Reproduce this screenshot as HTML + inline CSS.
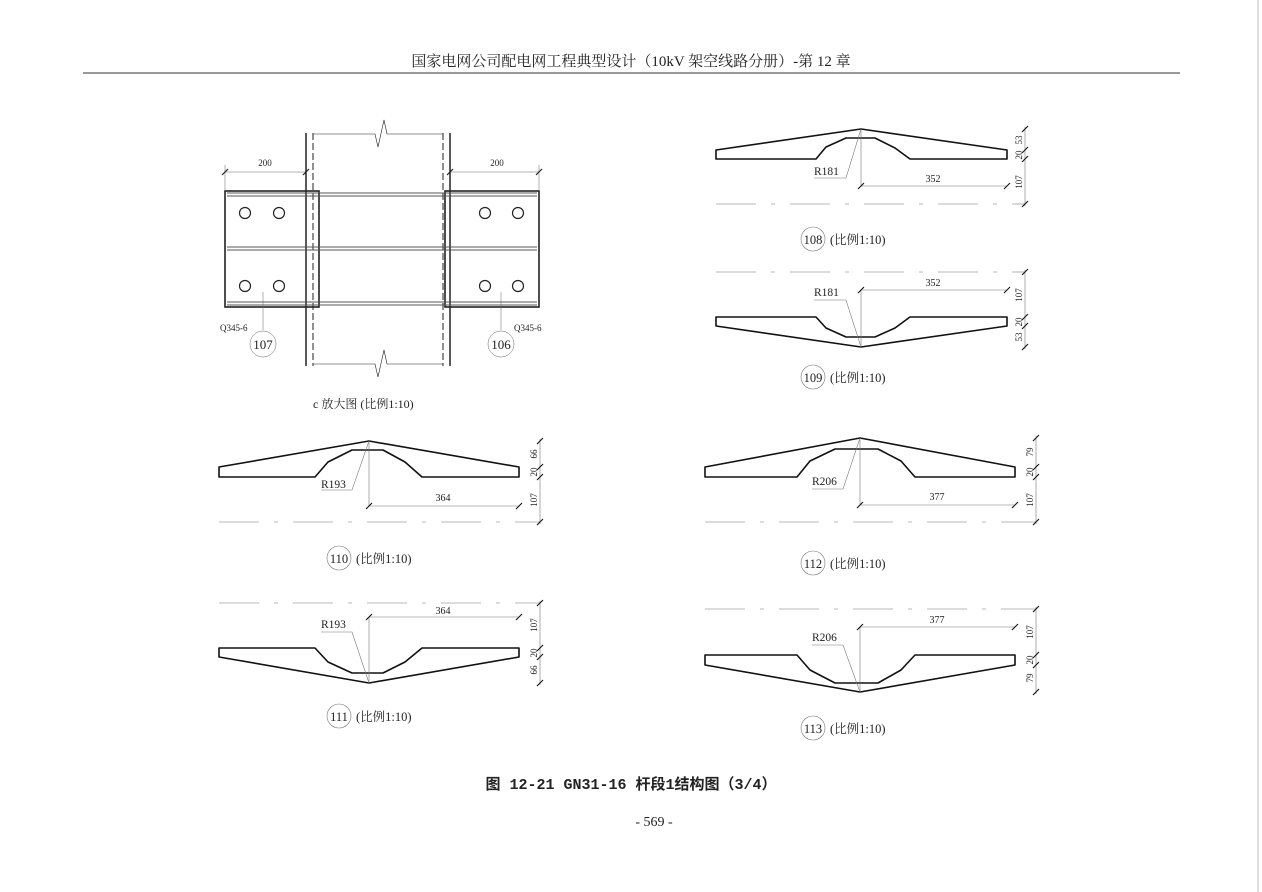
<!DOCTYPE html>
<html><head><meta charset="utf-8"><style>
body{margin:0;background:#fff}
svg{display:block}
text{font-family:"Liberation Serif","Noto Serif CJK SC",serif;fill:#222}
</style></head><body>
<svg width="1262" height="892" viewBox="0 0 1262 892" xmlns="http://www.w3.org/2000/svg">
<rect width="1262" height="892" fill="#fff"/>
<line x1="1258" y1="0" x2="1258" y2="892" stroke="#bbb"/>
<text x="631" y="66" font-size="15" text-anchor="middle">国家电网公司配电网工程典型设计（10kV 架空线路分册）-第 12 章</text>
<line x1="83" y1="73" x2="1180" y2="73" stroke="#333" stroke-width="1"/>

<g stroke="#222" fill="none">
<line x1="306" y1="133" x2="306" y2="366" stroke-width="1.5"/>
<line x1="450" y1="133" x2="450" y2="366" stroke-width="1.5"/>
<line x1="313" y1="133" x2="313" y2="366" stroke-dasharray="7,3"/>
<line x1="443" y1="133" x2="443" y2="366" stroke-dasharray="7,3"/>
<polyline points="313,134 375,134 378,147 384,120 387,134 443,134" stroke-width="0.6"/>
<polyline points="313,364 375,364 378,377 384,350 387,364 443,364" stroke-width="0.6"/>
<rect x="225" y="191" width="94" height="116" stroke-width="1.6"/>
<rect x="445" y="191" width="94" height="116" stroke-width="1.6"/>
<g stroke="#555" stroke-width="1">
<line x1="227" y1="193" x2="537" y2="193"/><line x1="227" y1="196" x2="537" y2="196"/>
<line x1="227" y1="247" x2="537" y2="247"/><line x1="227" y1="250" x2="537" y2="250"/>
<line x1="227" y1="302" x2="537" y2="302"/><line x1="227" y1="305" x2="537" y2="305"/>
</g>
<g stroke-width="1.2">
<circle cx="245" cy="213" r="5.5"/><circle cx="279" cy="213" r="5.5"/>
<circle cx="245" cy="286" r="5.5"/><circle cx="279" cy="286" r="5.5"/>
<circle cx="485" cy="213" r="5.5"/><circle cx="518" cy="213" r="5.5"/>
<circle cx="485" cy="286" r="5.5"/><circle cx="518" cy="286" r="5.5"/>
</g>
<g stroke-width="0.5" stroke="#666">
<line x1="225" y1="172" x2="306" y2="172"/><line x1="450" y1="172" x2="539" y2="172"/>
<line x1="225" y1="165" x2="225" y2="191"/><line x1="539" y1="165" x2="539" y2="191"/>
<line x1="263" y1="292" x2="263" y2="330"/><line x1="501" y1="292" x2="501" y2="330"/>
<circle cx="263" cy="344" r="13"/><circle cx="501" cy="344" r="13"/>
</g>
<g stroke-width="1.2"><line x1="222" y1="175" x2="228" y2="169"/><line x1="303" y1="175" x2="309" y2="169"/><line x1="447" y1="175" x2="453" y2="169"/><line x1="536" y1="175" x2="542" y2="169"/></g>
</g>
<g font-size="9">
<text x="265" y="166" text-anchor="middle">200</text>
<text x="497" y="166" text-anchor="middle">200</text>
<text x="220" y="331">Q345-6</text>
<text x="514" y="331">Q345-6</text>
</g>
<text x="263" y="349" font-size="13" text-anchor="middle">107</text>
<text x="501" y="349" font-size="13" text-anchor="middle">106</text>
<text x="313" y="408" font-size="12">c 放大图 (比例1:10)</text>

<g stroke="#111" fill="none" stroke-width="1.6" stroke-linejoin="round">
<polygon points="716,150 861,129 1007,150 1007,159 910,159 895,148 875,138 846,138 826,147 816,159 716,159"/>
<polygon points="716,317 816,317 826,328 846,337 875,337 895,328 910,317 1007,317 1007,326 861,347 716,326"/>
<polygon points="219,467 369,441 519,467 519,477 422,477 405,462 383,450 352,450 328,462 315,477 219,477"/>
<polygon points="219,648 315,648 328,662 352,673 383,673 405,662 422,648 519,648 519,657 369,683 219,657"/>
<polygon points="705,467 860,438 1015,467 1015,477 915,477 901,461 878,449 835,449 810,461 797,477 705,477"/>
<polygon points="705,655 797,655 810,670 835,683 878,683 901,670 915,655 1015,655 1015,665 860,692 705,665"/>
</g>
<g stroke="#777" fill="none" stroke-width="0.6">
<line x1="716" y1="204" x2="1025" y2="204" stroke-dasharray="40,15,4,15"/>
<line x1="716" y1="272" x2="1025" y2="272" stroke-dasharray="40,15,4,15"/>
<line x1="219" y1="522" x2="540" y2="522" stroke-dasharray="40,15,4,15"/>
<line x1="219" y1="603" x2="540" y2="603" stroke-dasharray="40,15,4,15"/>
<line x1="705" y1="522" x2="1036" y2="522" stroke-dasharray="40,15,4,15"/>
<line x1="705" y1="609" x2="1036" y2="609" stroke-dasharray="40,15,4,15"/>
<line x1="861" y1="129" x2="861" y2="186"/><line x1="861" y1="186" x2="1007" y2="186"/>
<line x1="861" y1="290" x2="861" y2="347"/><line x1="861" y1="290" x2="1007" y2="290"/>
<line x1="369" y1="441" x2="369" y2="506"/><line x1="369" y1="506" x2="519" y2="506"/>
<line x1="369" y1="617" x2="369" y2="683"/><line x1="369" y1="617" x2="519" y2="617"/>
<line x1="860" y1="438" x2="860" y2="505"/><line x1="860" y1="505" x2="1015" y2="505"/>
<line x1="860" y1="627" x2="860" y2="692"/><line x1="860" y1="627" x2="1015" y2="627"/>
<line x1="1025" y1="127" x2="1025" y2="206"/><line x1="1025" y1="270" x2="1025" y2="349"/>
<line x1="540" y1="439" x2="540" y2="524"/><line x1="540" y1="601" x2="540" y2="685"/>
<line x1="1036" y1="436" x2="1036" y2="524"/><line x1="1036" y1="607" x2="1036" y2="694"/>
<polyline points="814,178 846,178 861,129"/><polyline points="814,300 846,300 861,347"/>
<polyline points="321,490 352,490 369,441"/><polyline points="321,632 352,632 369,683"/>
<polyline points="812,489 843,489 860,438"/><polyline points="812,645 843,645 860,692"/>
<circle cx="813" cy="239" r="12"/><circle cx="813" cy="377" r="12"/>
<circle cx="339" cy="558" r="12"/><circle cx="339" cy="716" r="12"/>
<circle cx="813" cy="563" r="12"/><circle cx="813" cy="728" r="12"/>
</g>
<g stroke="#111" stroke-width="1.1">
<path d="M858,189l6,-6M1004,189l6,-6M858,293l6,-6M1004,293l6,-6M366,509l6,-6M516,509l6,-6M366,620l6,-6M516,620l6,-6M857,508l6,-6M1012,508l6,-6M857,630l6,-6M1012,630l6,-6"/>
<path d="M1022,132l6,-6M1022,153l6,-6M1022,162l6,-6M1022,207l6,-6M1022,275l6,-6M1022,320l6,-6M1022,329l6,-6M1022,350l6,-6"/>
<path d="M537,444l6,-6M537,470l6,-6M537,480l6,-6M537,525l6,-6M537,606l6,-6M537,651l6,-6M537,660l6,-6M537,686l6,-6"/>
<path d="M1033,441l6,-6M1033,470l6,-6M1033,480l6,-6M1033,525l6,-6M1033,612l6,-6M1033,658l6,-6M1033,668l6,-6M1033,695l6,-6"/>
</g>
<g font-size="10" text-anchor="middle">
<text x="933" y="182">352</text><text x="933" y="286">352</text>
<text x="443" y="501">364</text><text x="443" y="614">364</text>
<text x="937" y="500">377</text><text x="937" y="623">377</text>
</g>
<g font-size="11.5">
<text x="814" y="175">R181</text><text x="814" y="296">R181</text>
<text x="321" y="488">R193</text><text x="321" y="628">R193</text>
<text x="812" y="485">R206</text><text x="812" y="641">R206</text>
</g>
<g font-size="9" text-anchor="middle">
<text transform="translate(1022,140) rotate(-90)">53</text>
<text transform="translate(1022,155) rotate(-90)">20</text>
<text transform="translate(1022,182) rotate(-90)">107</text>
<text transform="translate(1022,295) rotate(-90)">107</text>
<text transform="translate(1022,322) rotate(-90)">20</text>
<text transform="translate(1022,337) rotate(-90)">53</text>
<text transform="translate(537,454) rotate(-90)">66</text>
<text transform="translate(537,472) rotate(-90)">20</text>
<text transform="translate(537,500) rotate(-90)">107</text>
<text transform="translate(537,625) rotate(-90)">107</text>
<text transform="translate(537,653) rotate(-90)">20</text>
<text transform="translate(537,670) rotate(-90)">66</text>
<text transform="translate(1033,452) rotate(-90)">79</text>
<text transform="translate(1033,472) rotate(-90)">20</text>
<text transform="translate(1033,500) rotate(-90)">107</text>
<text transform="translate(1033,632) rotate(-90)">107</text>
<text transform="translate(1033,660) rotate(-90)">20</text>
<text transform="translate(1033,678) rotate(-90)">79</text>
</g>
<g font-size="12.5">
<text x="813" y="244" text-anchor="middle">108</text><text x="830" y="244">(比例1:10)</text>
<text x="813" y="382" text-anchor="middle">109</text><text x="830" y="382">(比例1:10)</text>
<text x="339" y="563" text-anchor="middle">110</text><text x="356" y="563">(比例1:10)</text>
<text x="339" y="721" text-anchor="middle">111</text><text x="356" y="721">(比例1:10)</text>
<text x="813" y="568" text-anchor="middle">112</text><text x="830" y="568">(比例1:10)</text>
<text x="813" y="733" text-anchor="middle">113</text><text x="830" y="733">(比例1:10)</text>
</g>
<text x="631" y="789" font-size="15" font-weight="bold" text-anchor="middle" style="font-family:'Liberation Mono','Noto Sans CJK SC',monospace">图 12-21  GN31-16 杆段1结构图（3/4）</text>
<text x="654" y="826" font-size="14" text-anchor="middle">- 569 -</text>
</svg>
</body></html>
